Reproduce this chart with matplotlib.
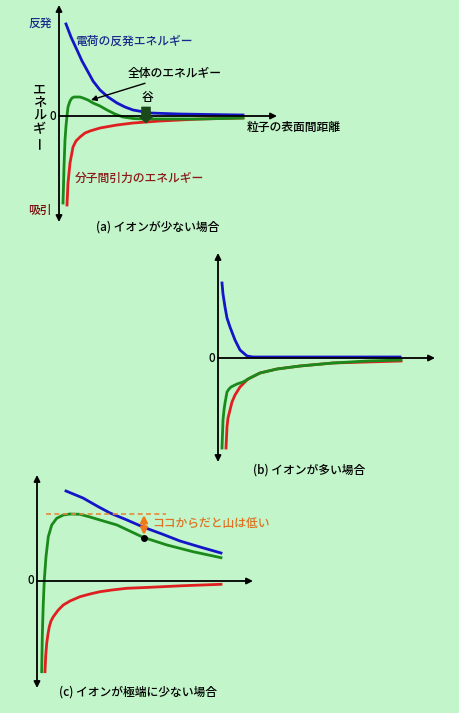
import matplotlib.pyplot as plt
from matplotlib.patches import FancyArrowPatch

plt.rcParams['font.family'] = ['Noto Sans CJK JP', 'DejaVu Sans']
plt.rcParams['font.weight'] = 'medium'

BG = '#c2f5ca'
BLUE = '#1414c8'
RED = '#e02020'
GREEN = '#1a8a1a'
FS = 8.5

# (a) イオンが少ない場合 : x = 距離, y = エネルギー (読み取り値)
a_rep_x = [7, 12, 18, 23, 28, 34, 41, 49, 58, 66, 74, 91, 120, 150, 184]
a_rep_y = [92, 79, 66, 55, 46, 35, 26, 19, 13, 9, 6, 3, 2, 1.5, 1]
a_att_x = [8, 9, 11, 14, 17, 21, 26, 31, 41, 58, 74, 101, 141, 184]
a_att_y = [-89, -67, -47, -31, -25, -21, -17, -15, -12, -9, -7, -5, -3, -2]
a_tot_x = [4, 4.5, 5, 6, 7, 8, 9, 11, 13, 15, 18, 21, 24, 29, 34, 41, 48, 56, 64, 74, 84, 108, 141, 184]
a_tot_y = [-87, -70, -51, -24, -10, 0, 9, 15, 18, 19, 19, 19, 18, 16, 13, 10, 6, 2, -1, -2.5, -3, -3, -3, -2]

# (b) イオンが多い場合
b_rep_x = [4, 5, 7, 9, 12, 17, 22, 29, 35, 60, 100, 182]
b_rep_y = [75, 64, 51, 40, 31, 18, 8, 2, 1, 1, 1, 1]
b_att_x = [8, 9, 10, 12, 14, 17, 22, 30, 42, 59, 82, 115, 149, 183]
b_att_y = [-90, -69, -60, -52, -44, -37, -29, -21, -15, -11, -8, -5, -4, -3]
b_tot_x = [4, 5, 6, 7, 9, 11, 13, 19, 25, 32, 42, 59, 82, 115, 149, 183]
b_tot_y = [-90, -62, -52, -45, -34, -31, -29, -26, -24, -20, -15, -11, -8, -5, -3, -2]

# (c) イオンが極端に少ない場合
c_rep_x = [29, 46, 60, 73, 90, 106, 125, 143, 163, 184]
c_rep_y = [90, 83, 75, 68, 61, 54, 47, 40, 34, 28]
c_att_x = [8, 8.7, 9.7, 11, 12.3, 14, 16.3, 21.3, 26.3, 33, 43, 53, 63, 75, 89.7, 113, 146.3, 184]
c_att_y = [-90.7, -75, -62.3, -53, -45.7, -40, -35.7, -29, -24, -20, -15.7, -13, -10.7, -9, -7.3, -6.3, -4.7, -3.3]
c_tot_x = [4.7, 5, 5.3, 5.8, 6.3, 7.3, 9, 11.3, 14.7, 19.7, 26.3, 33, 43, 53, 63, 80, 106, 130, 156, 184]
c_tot_y = [-90.7, -72, -55.7, -38, -22, 1, 24.3, 44.3, 56, 62.7, 66, 67, 66.7, 64, 61, 56, 43.7, 36, 29.3, 23.3]
c_peak = 67
c_point = (107, 43)

ylabel_chars = ['エ', 'ネ', 'ル', 'ギ', 'ー']

W, H = 460, 713
fig = plt.figure(figsize=(W / 100, H / 100), dpi=100, facecolor=BG)


def panel(ox, oy):
    # 各パネルの原点を画素位置 (ox, oy) に合わせた透明な軸
    ax = fig.add_axes([0, 0, 1, 1])
    ax.set_xlim(-ox, W - ox)
    ax.set_ylim(oy - H, oy)
    ax.axis('off')
    ax.patch.set_alpha(0)
    return ax


def arrow(ax, p0, p1, style, color='black', lw=1.3, ms=9, z=3):
    ax.add_patch(FancyArrowPatch(p0, p1, arrowstyle=style, mutation_scale=ms, lw=lw,
                                 color=color, shrinkA=0, shrinkB=0, zorder=z))


def axes_arrows(ax, top, bottom, right):
    arrow(ax, (0, bottom), (0, top), '<|-|>')
    arrow(ax, (0, 0), (right, 0), '-|>')
    ax.text(-6, 0, '0', fontsize=FS, ha='center', va='center')


# ---- (a)
ax = panel(59, 116)
axes_arrows(ax, 111, -106, 218)
ax.plot(a_rep_x, a_rep_y, color=BLUE, lw=2)
ax.plot(a_att_x, a_att_y, color=RED, lw=2)
ax.plot(a_tot_x, a_tot_y, color=GREEN, lw=2)
ax.text(-19, 93, '反発', fontsize=FS, color='#1a2a8a', ha='center', va='center')
ax.text(-19, -94, '吸引', fontsize=FS, color='#7a1010', ha='center', va='center')
# 縦書きの「エネルギー」
for i, ch in enumerate(ylabel_chars):
    ax.text(-19, 26 - 13 * i, ch, fontsize=FS + 1, ha='center', va='center',
            rotation=90 if ch == 'ー' else 0)
ax.text(16, 75, '電荷の反発エネルギー', fontsize=FS, color='#1a2a8a', ha='left', va='center')
ax.text(16, -62, '分子間引力のエネルギー', fontsize=FS, color='#8b1a1a', ha='left', va='center')
ax.text(188, -11, '粒子の表面間距離', fontsize=FS, ha='left', va='center')
ax.annotate('全体のエネルギー', xy=(32, 16), xytext=(69, 42), fontsize=FS,
            ha='left', va='center',
            arrowprops=dict(arrowstyle='-|>', color='black', lw=1, mutation_scale=8,
                            shrinkA=0, shrinkB=0))
ax.text(88, 19, '谷', fontsize=FS, ha='center', va='center')
arrow(ax, (87, 9), (87, -7), 'simple,head_width=1.1,tail_width=0.7', color='#1a4a1a',
      lw=0.5, ms=9, z=6)
ax.text(37, -111, '(a) イオンが少ない場合', fontsize=FS, ha='left', va='center')

# ---- (b)
ax = panel(218, 358)
axes_arrows(ax, 105, -104, 217)
ax.plot(b_rep_x, b_rep_y, color=BLUE, lw=2)
ax.plot(b_att_x, b_att_y, color=RED, lw=2)
ax.plot(b_tot_x, b_tot_y, color=GREEN, lw=2)
ax.text(35, -112, '(b) イオンが多い場合', fontsize=FS, ha='left', va='center')

# ---- (c)
ax = panel(37, 581)
axes_arrows(ax, 106, -107, 216)
ax.plot(c_rep_x, c_rep_y, color=BLUE, lw=2)
ax.plot(c_att_x, c_att_y, color=RED, lw=2)
ax.plot(c_tot_x, c_tot_y, color=GREEN, lw=2)
ax.plot([9, 129], [c_peak, c_peak], color='#e8883a', lw=1.2, ls=(0, (3, 2)))
ax.plot(*c_point, 'o', color='black', ms=4, zorder=5)
arrow(ax, (c_point[0], c_point[1] + 3), (c_point[0], c_peak - 1), '<|-|>',
      color='#f07818', lw=1.8, ms=10, z=6)
ax.text(115, 58, 'ココからだと山は低い', fontsize=FS, color='#e07020', ha='left', va='center')
ax.text(22, -111, '(c) イオンが極端に少ない場合', fontsize=FS, ha='left', va='center')

fig.savefig('out.png', dpi=100, facecolor=BG)
